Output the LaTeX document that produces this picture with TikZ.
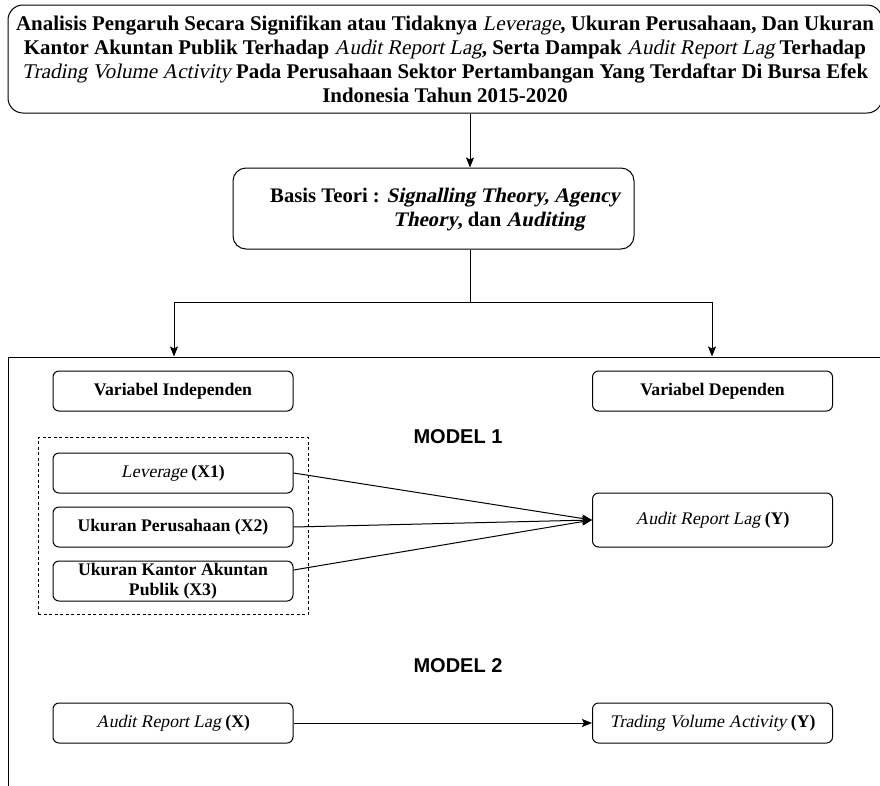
\documentclass[tikz,border=0pt]{standalone}
\usepackage{fontspec}
\setmainfont{Liberation Serif}[ItalicFont={Liberation Serif},ItalicFeatures={FakeSlant=0.21},BoldItalicFont={Liberation Serif Bold},BoldItalicFeatures={FakeSlant=0.21}]
\newfontfamily\arialfont{Liberation Sans}
\newcommand{\itx}[1]{{\mdseries\itshape #1}}
\usetikzlibrary{arrows.meta,calc}
\begin{document}
\begin{tikzpicture}[x=1pt,y=-1pt,
  box/.style={draw=black, line width=1pt, rounded corners=6pt, minimum width=240pt, minimum height=40pt, inner sep=2pt, align=center, font=\fontsize{17.7}{19.5}\selectfont\bfseries},
  arr/.style={line width=1pt, -{Stealth[length=10pt,width=8pt,inset=2pt]}},
  ln/.style={line width=1pt},
  modeltitle/.style={font=\arialfont\bfseries\fontsize{20}{22}\selectfont, inner sep=0pt}]
\fill[white] (0,0) rectangle (880,785);
\useasboundingbox (0,0) rectangle (880,785);

% top box
\node[box, minimum width=874pt, minimum height=108pt, rounded corners=15pt, inner sep=0pt, font=\fontsize{20.9}{24}\selectfont\bfseries] (top) at (445,59)
 {Analisis Pengaruh Secara Signifikan atau Tidaknya \itx{Leverage}, Ukuran Perusahaan, Dan Ukuran\\
  Kantor Akuntan Publik Terhadap \itx{Audit Report Lag}, Serta Dampak \itx{Audit Report Lag} Terhadap\\
  \itx{Trading Volume Activity} Pada Perusahaan Sektor Pertambangan Yang Terdaftar Di Bursa Efek\\
  Indonesia Tahun 2015-2020};

% basis box
\node[box, minimum width=401pt, minimum height=81pt, rounded corners=13pt] (basis) at (433.5,208.5) {};
\node[anchor=west, inner sep=0pt, align=left, font=\fontsize{20.7}{24}\selectfont\bfseries] (basistext) at (270,210)
 {Basis Teori : \textit{Signalling Theory, Agency}\\
  \hspace*{123pt}\textit{Theory}, dan \textit{Auditing}};

\coordinate (c470) at (470,0);
\draw[arr] (top.south -| c470) -- (basis.north -| c470);

% split
\coordinate (split) at (470,302);
\coordinate (bl) at (174,302);
\coordinate (br) at (712,302);
\node[draw=black, line width=1pt, minimum width=882pt, minimum height=443pt, inner sep=0pt] (frame) at (449,578.5) {};
\draw[ln] (basis.south -| split) -- (split);
\draw[ln] (bl) -- (br);
\draw[arr] (bl) -- (bl |- frame.north);
\draw[arr] (br) -- (br |- frame.north);

% headers
\node[box] (vi) at (173,391) {Variabel Independen};
\node[box] (vd) at (712.5,391) {Variabel Dependen};

\node[modeltitle] (m1) at (458,437) {MODEL 1};

\node[draw=black, line width=1pt, dash pattern=on 3pt off 2.5pt, minimum width=270pt, minimum height=177pt, inner sep=0pt] (grp) at (173,526) {};
\node[box] (lev) at (173,473) {\itx{Leverage} (X1)};
\node[box] (uk) at (173,527) {Ukuran Perusahaan (X2)};
\node[box, inner sep=0pt] (ukap) at (173,581) {Ukuran Kantor Akuntan\\Publik (X3)};
\node[box, minimum height=54pt] (ary) at (712.5,520) {\itx{Audit Report Lag} (Y)};

\draw[arr] (lev.east) -- (ary.west);
\draw[arr] (uk.east) -- (ary.west);
\draw[arr] ($(ukap.east)+(0,-11)$) -- (ary.west);

\node[modeltitle] (m2) at (458,666) {MODEL 2};
\node[box] (arx) at (173,723) {\itx{Audit Report Lag} (X)};
\node[box] (tva) at (712.5,723) {\itx{Trading Volume Activity} (Y)};
\draw[arr] (arx) -- (tva);
\end{tikzpicture}
\end{document}
